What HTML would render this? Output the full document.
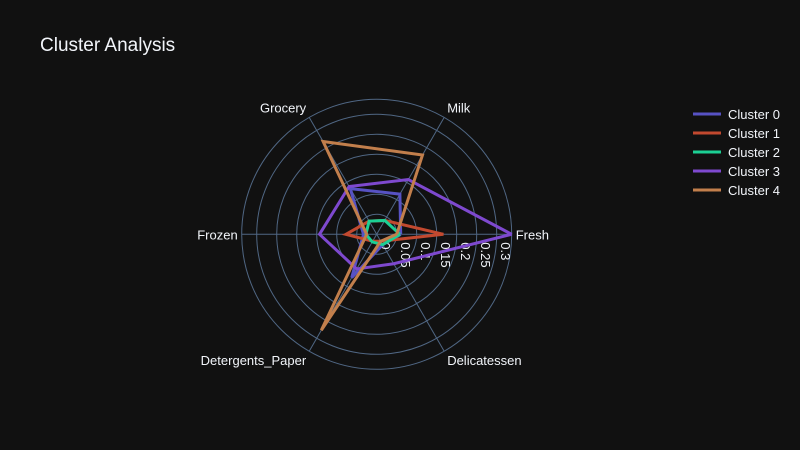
<!DOCTYPE html>
<html><head><meta charset="utf-8"><style>
html,body{margin:0;padding:0;background:#111111;}
svg{display:block;font-family:"Liberation Sans","DejaVu Sans",sans-serif;}
</style></head><body>
<svg id="chart" width="800" height="450">
<rect width="800" height="450" fill="#111111"/>
<text x="40" y="51" font-size="19" fill="#f2f5fa">Cluster Analysis</text>
<g id="grid"></g>
<g id="series"></g>
<g id="legend"></g>
</svg>
<script>
const categories = ["Fresh","Milk","Grocery","Frozen","Detergents_Paper","Delicatessen"];
const seriesNames = ["Cluster 0","Cluster 1","Cluster 2","Cluster 3","Cluster 4"];
const cluster0 = [0.06,0.116,0.132,0.033,0.125,0.03];
const cluster1 = [0.167,0.04,0.038,0.077,0.02,0.02];
const cluster2 = [0.058,0.04,0.038,0.027,0.022,0.03];
const cluster3 = [0.3375,0.158,0.138,0.143,0.1,0.085];
const cluster4 = [0.05,0.229,0.268,0.025,0.277,0.02];
const tickValues = [0,0.05,0.1,0.15,0.2,0.25,0.3];
const tickLabels = ["0","0.05","0.1","0.15","0.2","0.25","0.3"];
const rangeMax = 0.3375;

const seriesData=[cluster0,cluster1,cluster2,cluster3,cluster4];
const colors=["#5752c4","#c2492f","#1ccf94","#7e49cf","#c27f4c"];
const NS="http://www.w3.org/2000/svg";
const cx=376.7, cy=234.3, R=135;
function rScale(v){return v/rangeMax*R;}
function angle(i){return i*2*Math.PI/categories.length;}
function pt(i,v){const a=angle(i),r=rScale(v);return [cx+r*Math.cos(a),cy-r*Math.sin(a)];}
function mk(tag,attrs,parent){const e=document.createElementNS(NS,tag);for(const k in attrs)e.setAttribute(k,attrs[k]);parent.appendChild(e);return e;}
const grid=document.getElementById('grid');
tickValues.forEach((t,i)=>{ if(t>0){
  const c=mk('circle',{cx:cx,cy:cy,r:rScale(t),fill:'none',stroke:'#506784','stroke-width':1},grid);
  
  
}});
const outer=mk('circle',{cx:cx,cy:cy,r:R,fill:'none',stroke:'#506784','stroke-width':1},grid);


const labelPos=[
  {dx:4,dy:5,anchor:'start'},
  {dx:3,dy:-5,anchor:'start'},
  {dx:-3,dy:-5,anchor:'end'},
  {dx:-4,dy:5,anchor:'end'},
  {dx:-3,dy:14,anchor:'end'},
  {dx:3,dy:14,anchor:'start'}];
categories.forEach((c,i)=>{
  const [x,y]=pt(i,rangeMax);
  const l=mk('line',{x1:cx,y1:cy,x2:x,y2:y,stroke:'#506784','stroke-width':1},grid);
  
  
  const lp=labelPos[i];
  const t=mk('text',{x:x+lp.dx,y:y+lp.dy,'font-size':13,fill:'#f2f5fa','text-anchor':lp.anchor},grid);
  t.textContent=c;
  
  
});
tickValues.forEach((t,i)=>{
  const x=cx+rScale(t)+4.5, y=cy+8;
  const tx=mk('text',{x:0,y:0,'font-size':13,fill:'#f2f5fa',transform:`translate(${x},${y}) rotate(90)`},grid);
  tx.textContent=tickLabels[i];
  
  
});
const sg=document.getElementById('series');
seriesData.forEach((vals,s)=>{
  const pts=vals.map((v,i)=>pt(i,v));
  pts.push(pts[0]);
  const p=mk('polyline',{points:pts.map(p=>p.join(',')).join(' '),fill:'none',stroke:colors[s],'stroke-width':3,'stroke-linejoin':'miter'},sg);
  
  
});
const lg=document.getElementById('legend');
seriesNames.forEach((n,s)=>{
  const y=114+s*19;
  const g=mk('g',{},lg);
  
  
  mk('line',{x1:693,y1:y,x2:721,y2:y,stroke:colors[s],'stroke-width':3},g);
  const t=mk('text',{x:728,y:y+5,'font-size':13,fill:'#f2f5fa'},g);
  t.textContent=n;
});
</script>
</body></html>
